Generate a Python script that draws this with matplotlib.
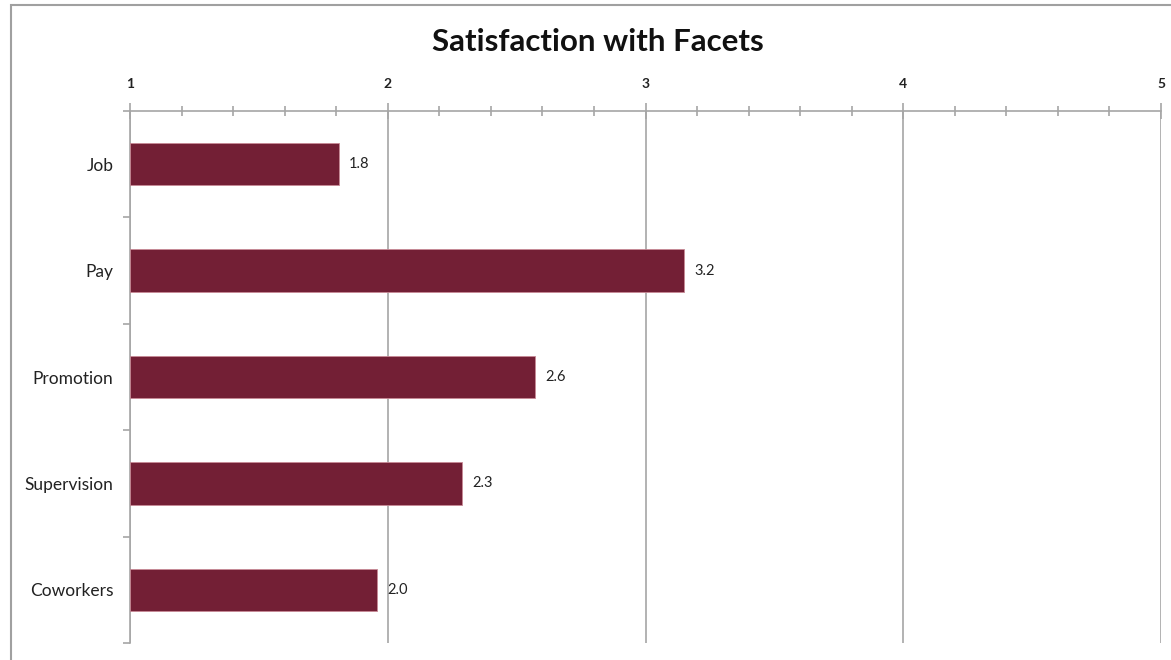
import numpy as np
import matplotlib.pyplot as plt
from matplotlib.patches import Rectangle
from matplotlib.ticker import MultipleLocator, FixedLocator

plt.rcParams['font.family'] = ['Lato', 'DejaVu Sans']

facets = ['Job', 'Pay', 'Promotion', 'Supervision', 'Coworkers']
scores = [1.81, 3.15, 2.57, 2.29, 1.96]
score_labels = ['1.8', '3.2', '2.6', '2.3', '2.0']

bar_color = '#731f35'
grid_color = '#a6a6a6'

fig = plt.figure(figsize=(11.71, 6.60), dpi=100)
ax = fig.add_axes([130 / 1171, 1 - 643 / 660, (1161 - 130) / 1171, (643 - 111) / 660])

pos = np.arange(len(facets))
ax.barh(pos, np.array(scores) - 1, left=1, height=0.4, color=bar_color,
        edgecolor='#c88a96', linewidth=0.6, zorder=3)

for p, v, t in zip(pos, scores, score_labels):
    ax.text(v + 0.04, p, t, va='center', ha='left', fontsize=10.5, color='#222222')

ax.set_xlim(1, 5)
ax.set_ylim(len(facets) - 0.5, -0.5)

# x axis on top
ax.xaxis.tick_top()
ax.xaxis.set_major_locator(MultipleLocator(1))
ax.xaxis.set_minor_locator(MultipleLocator(0.2))
ax.tick_params(axis='x', which='major', direction='inout', length=12, width=1.2,
               color=grid_color, labelsize=10, pad=9, labelcolor='#222222')
ax.tick_params(axis='x', which='minor', direction='inout', length=7, width=1.2,
               color=grid_color)
for lab in ax.get_xticklabels():
    lab.set_fontweight('bold')
ax.grid(axis='x', which='major', color=grid_color, linewidth=1.2, zorder=0)

# y axis: category boundaries as ticks, names at centres
ax.yaxis.set_major_locator(FixedLocator(np.arange(-0.5, len(facets), 1)))
ax.yaxis.set_minor_locator(FixedLocator(pos))
ax.set_yticklabels([], minor=False)
ax.set_yticklabels(facets, minor=True)
ax.tick_params(axis='y', which='major', direction='out', length=5, width=1.2,
               color=grid_color)
ax.tick_params(axis='y', which='minor', length=0, pad=12, labelsize=12.5,
               labelcolor='#222222')

for s in ['right', 'bottom']:
    ax.spines[s].set_visible(False)
for s in ['top', 'left']:
    ax.spines[s].set_color(grid_color)
    ax.spines[s].set_linewidth(1.2)

fig.text(598 / 1171, 1 - 42 / 660, 'Satisfaction with Facets', ha='center',
         va='center', fontsize=22.5, fontweight='bold', color='#111111')

# chart frame (runs off the right and bottom edges)
fig.patches.append(Rectangle((10.5 / 1171, -0.1), 1.2, 1 - 4.5 / 660 + 0.1,
                             transform=fig.transFigure, fill=False,
                             edgecolor='#a0a0a0', linewidth=1.5))

fig.savefig('out.png', dpi=100)
